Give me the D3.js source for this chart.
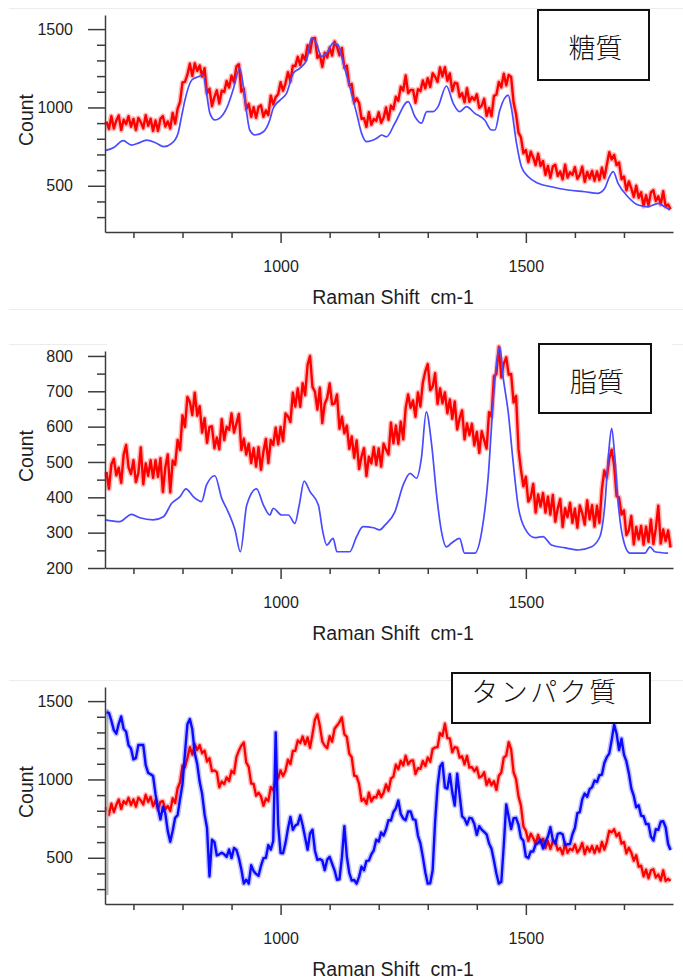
<!DOCTYPE html>
<html lang="ja">
<head>
<meta charset="UTF-8">
<title>Raman spectra</title>
<script src="https://cdn.jsdelivr.net/npm/d3@7"></script>
<style>
  body { margin: 0; background: #fff; }
  svg { display: block; }
  .tick text { font-family: "Liberation Sans", Arial, sans-serif; font-size: 16px; fill: #1e1e1e; }
  .axis-title { font-family: "Liberation Sans", Arial, sans-serif; font-size: 19.5px; fill: #1e1e1e; white-space: pre; }
  .box-label { font-family: "Noto Sans CJK JP", sans-serif; font-weight: 300; font-size: 27px; fill: #111; }
</style>
</head>
<body>
<script>

// Raman shift grid of the noisy spectra (cm-1)
var shifts = d3.range(645, 1796, 5);

var shiftMajor = [1000, 1500];
var shiftMinor = [700, 800, 900, 1100, 1200, 1300, 1400, 1600, 1700];
var countMajor = [500, 1000, 1500];
var countMinor = [300, 400, 600, 700, 800, 900, 1100, 1200, 1300, 1400];
var lipidMajor = [200, 300, 400, 500, 600, 700, 800];
var lipidMinor = [250, 350, 450, 550, 650, 750];

// 糖質
var sugarRed = [
  910, 863, 945, 866, 916, 949, 855, 922, 894, 944,
  877, 927, 856, 933, 906, 867, 950, 883, 928, 850,
  917, 850, 928, 944, 878, 911, 866, 965, 897, 991,
  1036, 1159, 1163, 1209, 1279, 1201, 1282, 1233, 1268, 1197,
  1251, 1089, 1120, 1008, 1066, 1109, 1025, 1107, 1099, 1169,
  1127, 1202, 1161, 1262, 1276, 1100, 1120, 988, 1023, 940,
  1002, 934, 1003, 1014, 940, 981, 951, 1075, 1019, 1066,
  1084, 1161, 1107, 1154, 1225, 1166, 1267, 1264, 1323, 1270,
  1335, 1303, 1397, 1351, 1441, 1444, 1316, 1337, 1259, 1349,
  1319, 1382, 1331, 1421, 1386, 1333, 1380, 1253, 1267, 1140,
  1150, 1030, 1058, 1028, 928, 931, 876, 970, 890, 926,
  914, 969, 902, 934, 1000, 921, 1012, 988, 1068, 1042,
  1133, 1108, 1204, 1091, 1111, 1112, 1030, 1117, 1104, 1172,
  1122, 1187, 1131, 1218, 1196, 1163, 1255, 1198, 1257, 1170,
  1217, 1104, 1158, 1154, 1068, 1091, 1033, 1123, 1036, 1066,
  1047, 1084, 997, 1012, 1055, 946, 997, 945, 1073, 1083,
  1163, 1128, 1215, 1141, 1207, 1194, 1030, 958, 839, 810,
  707, 729, 651, 718, 681, 632, 705, 626, 658, 570,
  627, 551, 623, 634, 563, 591, 541, 635, 552, 586,
  569, 619, 545, 569, 622, 525, 588, 547, 595, 532,
  591, 536, 615, 551, 633, 714, 668, 697, 632, 649,
  542, 559, 471, 528, 484, 429, 500, 423, 458, 370,
  439, 375, 458, 472, 403, 433, 381, 465, 367, 381,
  350
];
var sugarBlue = [
  [642, 724], [660, 745], [679, 788], [696, 760], [710, 772], [727, 792], [745, 775],
  [762, 750], [778, 771], [791, 836], [798, 941], [805, 1047], [819, 1175], [832, 1196],
  [842, 1207], [849, 1090], [856, 962], [866, 920], [876, 932], [890, 995], [903, 1111],
  [917, 1250], [924, 1133], [931, 962], [937, 856], [948, 824], [965, 845], [978, 920],
  [985, 995], [999, 1047], [1012, 1090], [1026, 1218], [1039, 1250], [1053, 1302],
  [1063, 1443], [1073, 1411], [1083, 1326], [1094, 1347], [1107, 1411], [1117, 1400],
  [1128, 1281], [1141, 1133], [1155, 962], [1165, 836], [1175, 782], [1196, 803],
  [1206, 824], [1216, 813], [1233, 899], [1260, 1037], [1274, 941], [1287, 899],
  [1298, 973], [1311, 973], [1321, 1005], [1338, 1137], [1352, 1026], [1365, 973],
  [1379, 1005], [1396, 962], [1416, 920], [1430, 856], [1437, 856], [1447, 984],
  [1464, 1079], [1470, 1005], [1481, 771], [1491, 622], [1505, 558], [1525, 516],
  [1552, 494], [1586, 473], [1620, 462], [1647, 452], [1661, 484], [1669, 548],
  [1678, 590], [1688, 516], [1708, 430], [1729, 377], [1749, 366], [1770, 388],
  [1783, 366], [1794, 345]
];

// 脂質
var lipidRed = [
  472, 424, 493, 509, 462, 484, 441, 520, 548, 485,
  466, 505, 443, 468, 541, 437, 496, 461, 505, 455,
  505, 458, 511, 415, 485, 521, 414, 504, 492, 562,
  534, 632, 599, 684, 670, 633, 696, 631, 658, 583,
  624, 554, 599, 601, 539, 569, 536, 621, 562, 600,
  591, 637, 583, 609, 636, 534, 566, 521, 552, 497,
  539, 487, 542, 478, 529, 565, 497, 562, 548, 597,
  550, 599, 559, 637, 629, 613, 696, 657, 708, 656,
  723, 689, 775, 800, 712, 699, 648, 710, 610, 665,
  681, 722, 663, 665, 691, 594, 628, 581, 603, 537,
  572, 512, 561, 480, 515, 539, 460, 515, 496, 542,
  492, 538, 487, 552, 535, 521, 611, 553, 603, 551,
  614, 564, 653, 691, 653, 674, 628, 697, 657, 725,
  756, 777, 703, 713, 751, 664, 708, 666, 697, 638,
  677, 622, 671, 592, 624, 646, 564, 609, 576, 608,
  547, 585, 526, 587, 562, 538, 641, 628, 743, 749,
  826, 739, 779, 796, 747, 749, 668, 687, 537, 478,
  431, 458, 388, 400, 438, 357, 408, 374, 412, 357,
  402, 351, 407, 331, 369, 395, 316, 369, 344, 384,
  328, 368, 314, 377, 355, 323, 391, 338, 378, 317,
  376, 328, 423, 476, 455, 509, 535, 490, 403, 400,
  351, 363, 293, 307, 347, 267, 316, 281, 319, 266,
  317, 274, 337, 268, 312, 376, 269, 309, 276, 306,
  258
];
var lipidBlue = [
  [642, 336], [672, 331], [696, 352], [713, 342], [740, 336], [761, 345], [778, 383],
  [795, 402], [807, 424], [822, 402], [839, 388], [849, 435], [866, 461], [880, 397],
  [893, 359], [907, 308], [918, 246], [931, 378], [951, 424], [965, 378], [978, 350],
  [985, 369], [1002, 350], [1016, 350], [1029, 326], [1038, 378], [1048, 446],
  [1060, 416], [1077, 378], [1086, 303], [1094, 265], [1107, 284], [1115, 246],
  [1141, 246], [1155, 289], [1168, 317], [1189, 314], [1202, 308], [1213, 322],
  [1233, 359], [1250, 435], [1264, 468], [1277, 454], [1287, 510], [1297, 642],
  [1308, 548], [1318, 407], [1328, 303], [1338, 260], [1348, 270], [1365, 284],
  [1375, 242], [1396, 242], [1410, 303], [1423, 454], [1433, 661], [1441, 790],
  [1447, 826], [1454, 737], [1464, 642], [1474, 501], [1484, 378], [1498, 312],
  [1518, 286], [1535, 289], [1552, 265], [1580, 257], [1607, 251], [1634, 260],
  [1651, 289], [1661, 378], [1669, 529], [1675, 595], [1681, 520], [1688, 388],
  [1698, 284], [1712, 242], [1743, 242], [1753, 260], [1763, 246], [1790, 242]
];

// タンパク質
var proteinRed = [
  824, 774, 846, 792, 838, 872, 812, 862, 844, 883,
  836, 873, 826, 884, 866, 840, 902, 856, 889, 829,
  867, 809, 857, 862, 810, 830, 798, 880, 850, 944,
  982, 1088, 1079, 1136, 1206, 1158, 1224, 1188, 1219, 1167,
  1184, 1114, 1136, 1053, 1058, 1047, 949, 987, 970, 1013,
  990, 1056, 1038, 1144, 1184, 1216, 1236, 1108, 1080, 974,
  972, 896, 915, 892, 832, 878, 862, 951, 930, 989,
  1009, 1058, 1021, 1056, 1126, 1098, 1182, 1183, 1249, 1232,
  1274, 1224, 1268, 1202, 1288, 1382, 1415, 1342, 1242, 1215,
  1200, 1276, 1241, 1324, 1344, 1366, 1396, 1288, 1272, 1164,
  1142, 1024, 1020, 972, 864, 877, 844, 916, 860, 889,
  884, 928, 886, 916, 968, 928, 1006, 1018, 1094, 1065,
  1119, 1089, 1151, 1096, 1118, 1122, 1034, 1072, 1067, 1118,
  1085, 1140, 1113, 1194, 1204, 1206, 1296, 1278, 1356, 1264,
  1262, 1174, 1207, 1202, 1139, 1148, 1096, 1150, 1075, 1079,
  1052, 1076, 1012, 1020, 1046, 964, 1001, 963, 989, 933,
  1024, 1044, 1139, 1152, 1238, 1192, 1045, 1002, 892, 833,
  700, 672, 608, 654, 626, 590, 646, 594, 622, 562,
  607, 556, 605, 607, 549, 563, 522, 590, 532, 558,
  547, 585, 534, 556, 594, 524, 570, 540, 575, 530,
  574, 539, 601, 552, 600, 672, 662, 682, 637, 658,
  590, 601, 528, 564, 533, 481, 516, 443, 450, 382,
  424, 369, 420, 427, 374, 394, 355, 420, 352, 366,
  352
];
var proteinBlue = [
  1428, 1425, 1375, 1315, 1292, 1355, 1402, 1322, 1306, 1218,
  1198, 1128, 1136, 1220, 1220, 1220, 1092, 1042, 1033, 1022,
  906, 818, 745, 824, 782, 670, 602, 672, 755, 772,
  875, 970, 1167, 1352, 1385, 1320, 1168, 1098, 985, 908,
  778, 690, 381, 615, 602, 515, 522, 532, 522, 506,
  553, 498, 562, 550, 497, 425, 335, 360, 335, 452,
  415, 397, 385, 448, 497, 500, 581, 552, 607, 1300,
  715, 530, 529, 595, 685, 761, 678, 706, 715, 770,
  708, 630, 551, 655, 679, 545, 487, 492, 482, 421,
  488, 506, 462, 420, 360, 363, 502, 702, 508, 403,
  355, 358, 335, 378, 444, 420, 480, 482, 522, 548,
  615, 603, 662, 642, 682, 740, 738, 792, 815, 866,
  778, 751, 740, 795, 796, 745, 742, 642, 592, 506,
  408, 335, 337, 420, 731, 955, 1082, 1105, 948, 942,
  1034, 918, 833, 1037, 902, 764, 750, 712, 755, 751,
  715, 646, 702, 680, 665, 650, 591, 558, 481, 398,
  335, 347, 580, 841, 762, 683, 752, 755, 712, 628,
  608, 508, 498, 540, 540, 585, 595, 615, 559, 602,
  635, 695, 615, 590, 652, 657, 650, 582, 586, 588,
  650, 690, 785, 792, 874, 910, 889, 938, 950, 993,
  983, 1027, 1030, 1105, 1142, 1165, 1252, 1350, 1292, 1187,
  1260, 1158, 1115, 1040, 943, 895, 822, 835, 768, 765,
  715, 716, 635, 611, 682, 678, 730, 733, 695, 588,
  550
];
var proteinMarker = [[647, 262], [647, 1450]];

var w = 683, h = 979;
var panelStep = 336;
var plot = { left: 105, right: 673, top: 15, bottom: 232 };

var panels = [
  { name: "糖質", yDomain: [205, 1590], major: countMajor, minor: countMinor,
    red: sugarRed, blue: sugarBlue, smoothBlue: true, blueColor: "#4a4aff", blueWidth: 1.7,
    redWidth: 2.4, box: { x: 538, y: 10, w: 111, h: 70 }, spacing: 0 },
  { name: "脂質", yDomain: [200, 814], major: lipidMajor, minor: lipidMinor,
    red: lipidRed, blue: lipidBlue, smoothBlue: true, blueColor: "#4a4aff", blueWidth: 1.7,
    redWidth: 2.4, box: { x: 539, y: 344, w: 112, h: 69 }, spacing: 0 },
  { name: "タンパク質", yDomain: [205, 1590], major: countMajor, minor: countMinor,
    red: proteinRed, blue: proteinBlue, smoothBlue: false, blueColor: "#0a0aff", blueWidth: 2.4,
    redWidth: 2.3, box: { x: 452, y: 673, w: 198, h: 50 }, spacing: 2.5 }
];

var svg = d3.select("body").append("svg")
    .attr("width", w)
    .attr("height", h);

// faint separators between the pasted panels
var separators = [
  [9, 683, 8], [9, 683, 309], [9, 107, 344], [672, 683, 344], [9, 683, 680]
];
svg.selectAll(".sep")
   .data(separators)
   .enter()
   .append("line")
   .attr("x1", function(d) { return d[0]; })
   .attr("x2", function(d) { return d[1]; })
   .attr("y1", function(d) { return d[2] + 0.5; })
   .attr("y2", function(d) { return d[2] + 0.5; })
   .attr("stroke", "#ececec")
   .attr("stroke-width", 1);

var xScale = d3.scaleLinear()
               .domain([642, 1800])
               .range([plot.left, plot.right]);

panels.forEach(function(p, k) {
  var g = svg.append("g")
             .attr("transform", "translate(0," + (k * panelStep) + ")");

  var yScale = d3.scaleLinear()
                 .domain(p.yDomain)
                 .range([plot.bottom, plot.top]);

  // red spectrum: soft halo then the line itself
  var noisy = d3.line()
                .x(function(d, i) { return xScale(shifts[i]); })
                .y(function(d) { return yScale(d); });
  g.append("path")
   .datum(p.red)
   .attr("d", noisy)
   .attr("fill", "none")
   .attr("stroke", "#ff0000")
   .attr("stroke-opacity", 0.28)
   .attr("stroke-width", p.redWidth + 3)
   .attr("stroke-linejoin", "round");
  g.append("path")
   .datum(p.red)
   .attr("d", noisy)
   .attr("fill", "none")
   .attr("stroke", "#ff0000")
   .attr("stroke-width", p.redWidth)
   .attr("stroke-linejoin", "round");

  if (k == 2) {
    g.append("path")
     .datum(proteinMarker)
     .attr("d", d3.line()
                  .x(function(d) { return xScale(d[0]); })
                  .y(function(d) { return yScale(d[1]); }))
     .attr("stroke", "#b4b4b4")
     .attr("stroke-width", 2);
  }

  // blue spectrum
  var blueLine;
  if (p.smoothBlue) {
    blueLine = d3.line()
                 .x(function(d) { return xScale(d[0]); })
                 .y(function(d) { return yScale(d[1]); })
                 .curve(d3.curveMonotoneX);
  } else {
    blueLine = noisy;
    g.append("path")
     .datum(p.blue)
     .attr("d", blueLine)
     .attr("fill", "none")
     .attr("stroke", p.blueColor)
     .attr("stroke-opacity", 0.25)
     .attr("stroke-width", p.blueWidth + 3)
     .attr("stroke-linejoin", "round");
  }
  g.append("path")
   .datum(p.blue)
   .attr("d", blueLine)
   .attr("fill", "none")
   .attr("stroke", p.blueColor)
   .attr("stroke-width", p.blueWidth)
   .attr("stroke-linejoin", "round");

  // axes
  var yMajorAxis = d3.axisLeft(yScale)
                     .tickValues(p.major)
                     .tickFormat(d3.format("d"))
                     .tickSize(17)
                     .tickSizeOuter(0)
                     .tickPadding(15);
  var yMinorAxis = d3.axisLeft(yScale)
                     .tickValues(p.minor)
                     .tickFormat("")
                     .tickSize(8);
  var xMajorAxis = d3.axisBottom(xScale)
                     .tickValues(shiftMajor)
                     .tickFormat(d3.format("d"))
                     .tickSize(11)
                     .tickSizeOuter(0)
                     .tickPadding(18);
  var xMinorAxis = d3.axisBottom(xScale)
                     .tickValues(shiftMinor)
                     .tickFormat("")
                     .tickSize(6);

  g.append("g")
   .attr("transform", "translate(" + plot.left + ",0)")
   .call(yMajorAxis);
  g.append("g")
   .attr("class", "minor")
   .attr("transform", "translate(" + plot.left + ",0)")
   .call(yMinorAxis);
  g.append("g")
   .attr("transform", "translate(0," + plot.bottom + ")")
   .call(xMajorAxis);
  g.append("g")
   .attr("class", "minor")
   .attr("transform", "translate(0," + plot.bottom + ")")
   .call(xMinorAxis);

  g.selectAll(".minor .domain").remove();
  g.selectAll(".domain, .tick line")
   .attr("stroke", "#3c3c3c")
   .attr("stroke-width", 1.5);
  g.selectAll(".tick text").attr("fill", "#1e1e1e");

  g.append("text")
   .attr("class", "axis-title")
   .attr("text-anchor", "middle")
   .attr("x", 393)
   .attr("y", 304)
   .text("Raman Shift  cm-1");
  g.append("text")
   .attr("class", "axis-title")
   .attr("text-anchor", "middle")
   .attr("transform", "translate(33,120)rotate(-90)")
   .text("Count");

  // label box
  g.append("rect")
   .attr("x", p.box.x)
   .attr("y", p.box.y - k * panelStep)
   .attr("width", p.box.w)
   .attr("height", p.box.h)
   .attr("fill", "#fff")
   .attr("stroke", "#111")
   .attr("stroke-width", 2);
  g.append("text")
   .attr("class", "box-label")
   .attr("x", p.box.x + p.box.w / 2 - (k == 2 ? 6 : -2))
   .attr("y", p.box.y - k * panelStep + (k == 2 ? 17 : 36))
   .attr("text-anchor", "middle")
   .attr("dominant-baseline", "central")
   .attr("letter-spacing", p.spacing)
   .text(p.name);
});

</script>
</body>
</html>
